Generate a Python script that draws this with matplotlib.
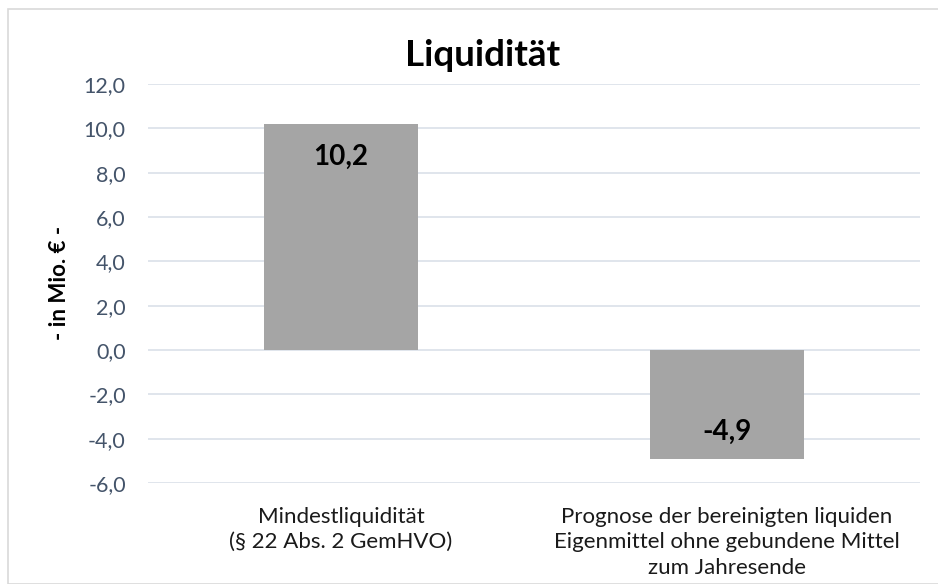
import matplotlib.pyplot as plt
from matplotlib.patches import Rectangle

# Daten
kategorien = ['Mindestliquidität\n(§ 22 Abs. 2 GemHVO)',
              'Prognose der bereinigten liquiden\nEigenmittel ohne gebundene Mittel\nzum Jahresende']
werte = [10.2, -4.9]
y_ticks = [-6, -4, -2, 0, 2, 4, 6, 8, 10, 12]

plt.rcParams['font.family'] = ['Lato', 'DejaVu Sans']

fig = plt.figure(figsize=(9.38, 5.84), dpi=100)
fig.patches.append(Rectangle((8 / 938, 0), 1, 1 - 9 / 584, transform=fig.transFigure,
                             fill=False, edgecolor='#D9D9D9', linewidth=1.2))
ax = fig.add_axes([148 / 938, 1 - 483 / 584, 772 / 938, 399 / 584])

x = range(len(werte))
ax.bar(x, werte, width=0.4, color='#A5A5A5', zorder=2)
ax.set_xlim(-0.5, 1.5)
ax.set_ylim(-6, 12)
ax.set_yticks(y_ticks)
ax.set_yticklabels([f'{v:.1f}'.replace('.', ',') for v in y_ticks],
                   fontsize=15.5, color='#44546A')
ax.set_xticks(list(x))
ax.set_xticklabels(kategorien, fontsize=16, color='#1A1A1A', linespacing=1.35)
ax.tick_params(length=0)
ax.tick_params(axis='y', pad=16)
ax.tick_params(axis='x', pad=17)
ax.grid(axis='y', color='#DDE3EA', linewidth=1.3, zorder=0)
for s in ax.spines.values():
    s.set_visible(False)

# Datenbeschriftung
for i, v in enumerate(werte):
    txt = f'{v:.1f}'.replace('.', ',')
    off = -24 if v >= 0 else 19
    ax.annotate(txt, (i, v), xytext=(0, off), textcoords='offset points',
                ha='center', va='center', fontsize=20, fontweight='bold')

fig.text(60 / 938, 1 - 283 / 584, '- in Mio. € -', rotation=90, ha='center', va='center',
         fontsize=16, fontweight='bold')
fig.text(483 / 938, 1 - 55 / 584, 'Liquidität', ha='center', va='center',
         fontsize=26.5, fontweight='bold')

fig.savefig('out.png', dpi=100)
